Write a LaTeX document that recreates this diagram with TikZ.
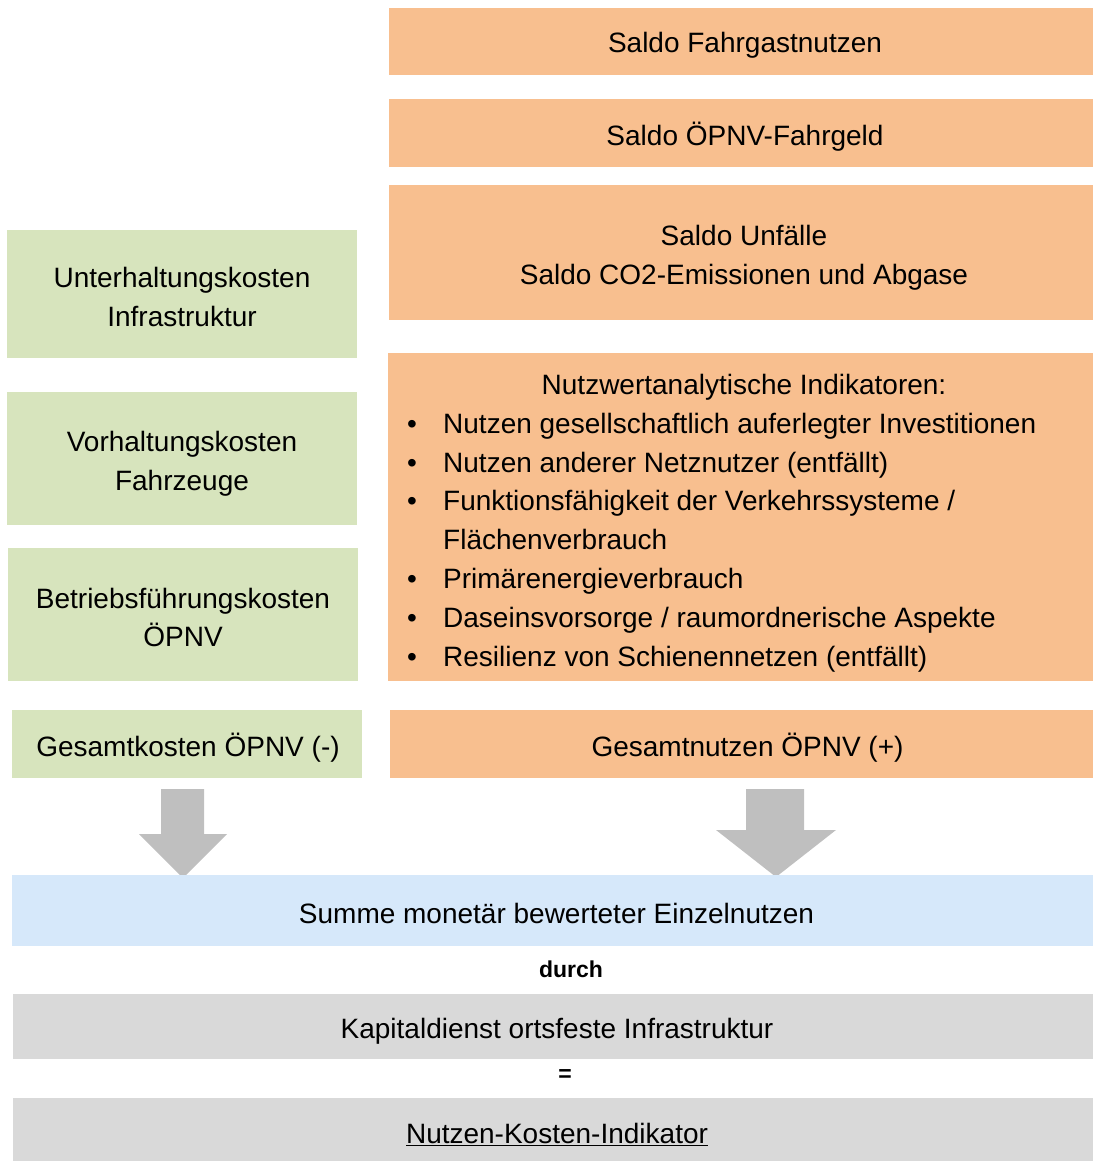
\documentclass[tikz,border=0pt]{standalone}
\usepackage{fontspec}
\setmainfont{Liberation Sans}
\usetikzlibrary{calc}
\definecolor{orng}{HTML}{F8BF8F}
\definecolor{grn}{HTML}{D7E4BD}
\definecolor{lblue}{HTML}{D6E8FA}
\definecolor{lgray}{HTML}{D9D9D9}
\definecolor{agray}{HTML}{BFBFBF}
\begin{document}
\begin{tikzpicture}[x=1pt,y=-1pt,
  box/.style={inner sep=0pt, outer sep=0pt},
  obox/.style={box, fill=orng, minimum width=704pt},
  gbox/.style={box, fill=grn, minimum width=350pt},
  txt/.style={inner sep=0pt, align=center, font=\fontsize{28}{38.8}\selectfont},
  small/.style={inner sep=0pt, font=\fontsize{23}{28}\selectfont\bfseries},
  blockarrow/.style={fill=agray}]
\useasboundingbox (0,0) rectangle (1093,1161);
% orange column
\node[obox, minimum height=67pt] (sf) at (741,41.5) {};
\node[txt] (sft) at ($(sf.center)+(4,4)$) {Saldo Fahrgastnutzen};
\node[obox, minimum height=68pt] (sg) at (741,133) {};
\node[txt] (sgt) at ($(sg.center)+(4,4)$) {Saldo ÖPNV-Fahrgeld};
\node[obox, minimum height=135pt] (su) at (741,252.5) {};
\node[txt] (sut) at ($(su.center)+(3,5)$) {Saldo Unfälle\\Saldo CO2-Emissionen und Abgase};
\node[obox, minimum width=705pt, minimum height=328pt] (nw) at (740.5,517) {};
\node[txt, anchor=base] (nwh) at (744,394) {Nutzwertanalytische Indikatoren:};
\foreach \i/\y/\t in {1/433/{Nutzen gesellschaftlich auferlegter Investitionen},
                      2/472/{Nutzen anderer Netznutzer (entfällt)},
                      3/510/{Funktionsfähigkeit der Verkehrssysteme /},
                      5/588/{Primärenergieverbrauch},
                      6/627/{Daseinsvorsorge / raumordnerische Aspekte},
                      7/666/{Resilienz von Schienennetzen (entfällt)}}{
  \node[txt, anchor=base] (b\i) at (412,\y) {•};
  \node[txt, anchor=base west] (l\i) at (443,\y) {\t};
}
\node[txt, anchor=base west] (l4) at (443,549) {Flächenverbrauch};
% green column
\node[gbox, minimum height=128pt] (uk) at (182,294) {};
\node[txt] (ukt) at ($(uk.center)+(0,3)$) {Unterhaltungskosten\\Infrastruktur};
\node[gbox, minimum height=133pt] (vk) at (182,458.5) {};
\node[txt] (vkt) at ($(vk.center)+(0,5)$) {Vorhaltungskosten\\Fahrzeuge};
\node[gbox, minimum height=133pt] (bk) at (183,614.5) {};
\node[txt] (bkt) at ($(bk.center)+(0,3)$) {Betriebsführungskosten\\ÖPNV};
% totals
\node[gbox, minimum height=68pt] (gk) at (187,744) {};
\node[txt] (gkt) at ($(gk.center)+(1,4)$) {Gesamtkosten ÖPNV (-)};
\node[obox, minimum width=703pt, minimum height=68pt] (gn) at (741.5,744) {};
\node[txt] (gnt) at ($(gn.center)+(6,4)$) {Gesamtnutzen ÖPNV (+)};
% arrows
\fill[blockarrow] (161,789) -- (204,789) -- (204,834) -- (227,834) -- (183,878) -- (139,834) -- (161,834) -- cycle;
\fill[blockarrow] (746,789) -- (804,789) -- (804,830) -- (836,830) -- (776,877) -- (716,830) -- (746,830) -- cycle;
% bottom
\node[box, fill=lblue, minimum width=1081pt, minimum height=71pt] (sm) at (552.5,910.5) {};
\node[txt] (smt) at ($(sm.center)+(4,3)$) {Summe monetär bewerteter Einzelnutzen};
\node[small] (du) at (571,969) {durch};
\node[box, fill=lgray, minimum width=1080pt, minimum height=65pt] (kd) at (553,1026.5) {};
\node[txt] (kdt) at ($(kd.center)+(4,5)$) {Kapitaldienst ortsfeste Infrastruktur};
\node[small] (eq) at (565,1076) {=};
\node[box, fill=lgray, minimum width=1080pt, minimum height=63pt] (nk) at (553,1129.5) {};
\node[txt] (nkt) at ($(nk.center)+(4,5)$) {\underline{Nutzen-Kosten-Indikator}};
\end{tikzpicture}
\end{document}
